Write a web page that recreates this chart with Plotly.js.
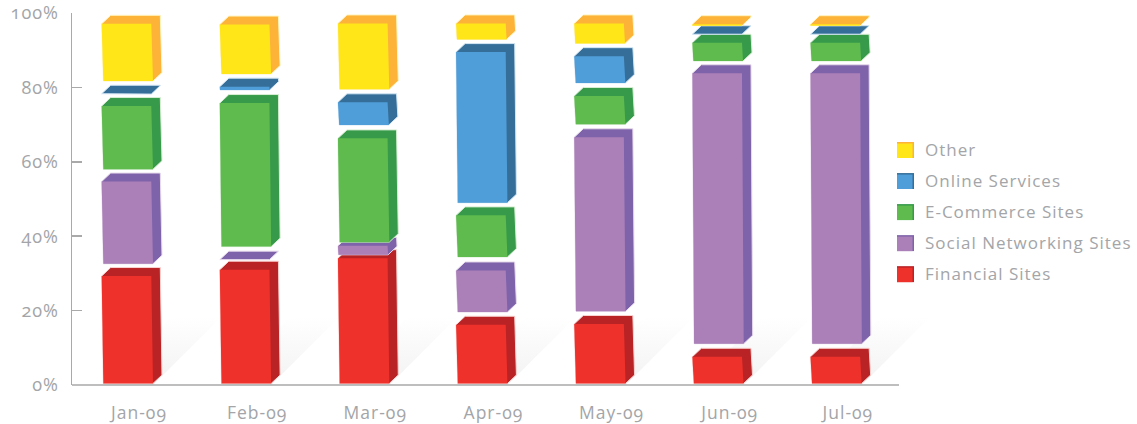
<!DOCTYPE html>
<html>
<head>
<meta charset="utf-8">
<script src="https://cdn.plot.ly/plotly-3.0.1.min.js"></script>
<style>
  html, body { margin: 0; padding: 0; background: #fff; }
  #chart { width: 1137px; height: 424px; }
  /* old-style figures and a little tracking for all chart text */
  #chart svg text { font-feature-settings: "onum" 1; letter-spacing: 1px; }
</style>
</head>
<body>
<div id="chart"></div>
<script>
const months = ['Jan-09', 'Feb-09', 'Mar-09', 'Apr-09', 'May-09', 'Jun-09', 'Jul-09'];
const percentTicks = [0, 20, 40, 60, 80, 100];
const percentLabels = ['0%', '20%', '40%', '60%', '80%', '100%'];

// Height of each block, in axis percent
const financial = [28.9, 30.6, 33.7, 15.8, 16.0, 7.2, 7.2];
const social    = [22.1, 0.0, 2.4, 11.2, 46.8, 72.7, 72.7];
const ecommerce = [17.0, 38.6, 27.9, 11.2, 7.6, 4.9, 4.9];
const online    = [0.1, 0.9, 6.1, 40.5, 7.2, 0.0, 0.0];
const other     = [15.4, 13.3, 17.7, 4.3, 5.4, 0.4, 0.4];

// Where each block starts on the axis (blocks float with gaps between them)
const financialBase = [0.4, 0.4, 0.4, 0.4, 0.4, 0.4, 0.4];
const socialBase    = [32.6, 33.7, 35.0, 19.6, 19.8, 11.1, 11.1];
const ecommerceBase = [58.0, 37.2, 38.4, 34.4, 70.1, 87.1, 87.1];
const onlineBase    = [78.2, 79.3, 69.9, 49.0, 81.2, 94.3, 94.3];
const otherBase     = [81.7, 83.6, 79.5, 92.9, 91.8, 96.6, 96.6];

// Drawn bottom to top so upper blocks overlap the lids below them
const seriesList = [
  { name: 'Financial Sites',         values: financial, base: financialBase, front: '#ef312b', dark: '#b92325', edge: '#f9d3d0' },
  { name: 'Social Networking Sites', values: social,    base: socialBase,    front: '#ab80b8', dark: '#7e62aa', edge: '#e8dcec' },
  { name: 'E-Commerce Sites',        values: ecommerce, base: ecommerceBase, front: '#5fbb4e', dark: '#369a4a', edge: '#d8eed3' },
  { name: 'Online Services',         values: online,    base: onlineBase,    front: '#4f9dd9', dark: '#356f99', edge: '#d3e6f5' },
  { name: 'Other',                   values: other,     base: otherBase,     front: '#ffe619', dark: '#fdb338', edge: '#fff5c0' }
];

// Plot frame in pixels; it runs past the end of the baseline to leave room for the last shadow
const frame = { left: 72, right: 935, top: 12.7, bottom: 385.5 };
const baselineEnd = 899;
const pxPerCat = 118.14;
const pxPerPct = (frame.bottom - frame.top) / 100;
const xRange = [-0.567, -0.567 + (frame.right - frame.left) / pxPerCat];

// Block geometry, converted to axis units
const frontOffset = -37.3 / pxPerCat;
const frontWidth = 49.6 / pxPerCat;
const depthX = 9 / pxPerCat;
const depthY = 8.5 / pxPerPct;
const leanX = 1.7 / pxPerCat;

function faces(s) {
  const out = { front: { x: [], y: [] }, hull: { x: [], y: [] } };
  const add = (f, xs, ys) => {
    f.x.push(...xs, xs[0], null);
    f.y.push(...ys, ys[0], null);
  };
  s.values.forEach((h, i) => {
    const y0 = s.base[i], y1 = y0 + h;
    const lean = leanX * Math.min(1, h * pxPerPct / 30);
    const xl = i + frontOffset, xr = xl + frontWidth;
    // Outer silhouette carries the lid and side colour; the front face sits on top
    add(out.hull,
      [xl, xl + depthX, xr + depthX, xr + depthX + lean, xr + lean, xl + lean],
      [y1, y1 + depthY, y1 + depthY, y0 + depthY, y0, y0]);
    if (h > 0) add(out.front, [xl, xr, xr + lean, xl + lean], [y1, y1, y0, y0]);
  });
  return out;
}

function polygon(points, fill, line, name) {
  return {
    type: 'scatter', mode: 'lines', name: name, x: points.x, y: points.y, fill: 'toself',
    fillcolor: fill, line: { color: line, width: line ? 1 : 0 },
    hoverinfo: 'skip', showlegend: false, connectgaps: false
  };
}

const traces = [];

// Soft ground shadow falling away to the upper right of each bar
months.forEach((m, i) => {
  const xl = i + frontOffset + leanX, xr = xl + frontWidth;
  const rise = 68 / pxPerPct, run = 68 / pxPerCat;
  traces.push({
    type: 'scatter', mode: 'lines',
    x: [xl, xr, xr + run, xl + run, xl],
    y: [0, 0, rise, rise, 0],
    fill: 'toself', line: { width: 0 }, hoverinfo: 'skip', showlegend: false,
    fillgradient: { type: 'vertical', colorscale: [[0, '#f2f2f2'], [1, '#ffffff']] }
  });
});

seriesList.forEach(s => {
  const f = faces(s);
  traces.push(polygon(f.hull, s.dark, s.edge, s.name + ' block'));
  traces.push(polygon(f.front, s.front, null, s.name));
});

// Key on the right, listed from the top of the stack downward
const keyRows = seriesList.slice().reverse();
const keyPx = { swatchLeft: 897, swatchRight: 914, textLeft: 923, firstRow: 150, rowStep: 31.1, half: 8, textRise: 1 };
const paperX = px => (px - frame.left) / (frame.right - frame.left);
const paperY = px => (frame.bottom - px) / (frame.bottom - frame.top);
const keyShapes = [];
const keyLabels = [];
keyRows.forEach((s, r) => {
  const cy = keyPx.firstRow + r * keyPx.rowStep;
  const rect = (x0, x1, y0, y1, color) => ({
    type: 'rect', xref: 'paper', yref: 'paper',
    x0: paperX(x0), x1: paperX(x1), y0: paperY(y0), y1: paperY(y1),
    fillcolor: color, line: { width: 0 }
  });
  keyShapes.push(rect(keyPx.swatchLeft, keyPx.swatchRight, cy - keyPx.half, cy + keyPx.half, s.dark));
  keyShapes.push(rect(keyPx.swatchLeft, keyPx.swatchRight - 1.5, cy - keyPx.half + 1.5, cy + keyPx.half, s.front));
  keyLabels.push({
    xref: 'paper', yref: 'paper', x: paperX(keyPx.textLeft), y: paperY(cy - keyPx.textRise),
    xanchor: 'left', yanchor: 'middle', align: 'left', showarrow: false, text: s.name,
    font: { family: 'Open Sans', size: 17, color: '#a3a5a8' }
  });
});

// Baseline stops short of the plot frame
keyShapes.push({
  type: 'line', xref: 'paper', yref: 'paper', x0: 0, x1: paperX(baselineEnd), y0: 0, y1: 0,
  line: { color: '#a9a9a9', width: 1.5 }
});

const layout = {
  width: 1137, height: 424,
  margin: { l: frame.left, r: 1137 - frame.right, t: frame.top, b: 424 - frame.bottom, pad: 0 },
  paper_bgcolor: '#ffffff', plot_bgcolor: '#ffffff',
  showlegend: false,
  font: { family: 'Open Sans', size: 17, color: '#a3a5a8' },
  xaxis: {
    type: 'linear', range: xRange, tickmode: 'array',
    tickvals: months.map((m, i) => i), ticktext: months,
    showgrid: false, zeroline: false, showline: false,
    ticks: '', ticklabelstandoff: 15, tickfont: { size: 17.5 },
    fixedrange: true
  },
  yaxis: {
    range: [0, 100], tickmode: 'array', tickvals: percentTicks, ticktext: percentLabels,
    showgrid: false, zeroline: false, showline: true,
    linecolor: '#a9a9a9', linewidth: 1.5,
    ticks: 'inside', ticklen: 10, tickcolor: '#a9a9a9', tickwidth: 1.5,
    ticklabelstandoff: 8, tickfont: { size: 18 }, fixedrange: true
  },
  shapes: keyShapes,
  annotations: keyLabels
};

Plotly.newPlot('chart', traces, layout, { displayModeBar: false, staticPlot: true });
</script>
</body>
</html>
